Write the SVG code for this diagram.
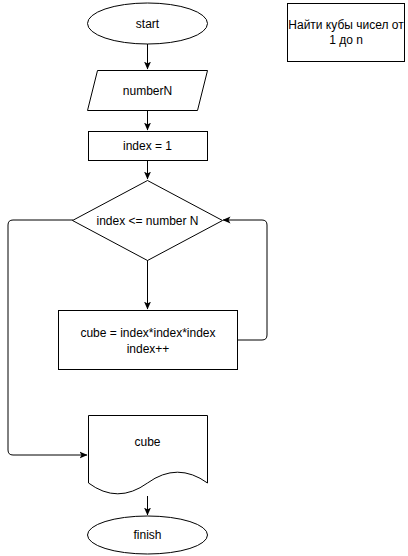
<svg xmlns="http://www.w3.org/2000/svg" width="408" height="556" viewBox="0 0 408 556">
  <defs>
    <marker id="arrow" markerWidth="8" markerHeight="8" refX="7.5" refY="4" orient="auto" markerUnits="userSpaceOnUse">
      <path d="M0,0.5 L8,4 L0,7.5 L2,4 Z" fill="#000"/>
    </marker>
    <style>
      .shape { fill: #fff; stroke: #000; stroke-width: 1; }
      .edge { fill: none; stroke: #000; stroke-width: 1; marker-end: url(#arrow); }
      text { font-family: "Liberation Sans", Arial, sans-serif; font-size: 12px; fill: #000; text-anchor: middle; dominant-baseline: central; }
    </style>
  </defs>
  <rect width="408" height="556" fill="#fff"/>

  <g id="edges">
    <path class="edge" d="M147.5,44 V69"/>
    <path class="edge" d="M147.5,110 V130"/>
    <path class="edge" d="M147.5,161 V179"/>
    <path class="edge" d="M147.5,260 V309"/>
    <path class="edge" d="M238,340 H262 Q267,340 267,335 V225 Q267,220 262,220 H223"/>
    <path class="edge" d="M73,220 H13 Q8,220 8,225 V450 Q8,455 13,455 H87"/>
    <path class="edge" d="M147.5,496 V515"/>
  </g>

  <g id="start">
    <ellipse class="shape" cx="147.5" cy="23.5" rx="60" ry="20.5"/>
    <text x="147.5" y="23.5">start</text>
  </g>

  <g id="input-n">
    <polygon class="shape" points="97.5,70.5 207.5,70.5 197.5,110.5 87.5,110.5"/>
    <text x="147.5" y="90.5">numberN</text>
  </g>

  <g id="init-index">
    <rect class="shape" x="88.5" y="131.5" width="119" height="29"/>
    <text x="147.5" y="146">index = 1</text>
  </g>

  <g id="condition">
    <polygon class="shape" points="147.5,180.5 222.5,220.5 147.5,260.5 72.5,220.5"/>
    <text x="147.5" y="220.5">index &lt;= number N</text>
  </g>

  <g id="compute">
    <rect class="shape" x="58.5" y="310.5" width="179" height="59"/>
    <text x="148" y="332.5">cube = index*index*index</text>
    <text x="148" y="348.5">index++</text>
  </g>

  <g id="output-cube">
    <path class="shape" d="M88.5,415.5 H207.5 V483 Q177.5,461.4 147.5,483 Q117.5,504.6 88.5,483 Z"/>
    <text x="147.5" y="441.5">cube</text>
  </g>

  <g id="finish">
    <ellipse class="shape" cx="147.5" cy="535" rx="60" ry="19"/>
    <text x="147.5" y="535">finish</text>
  </g>

  <g id="note">
    <rect class="shape" x="287.5" y="3.5" width="117" height="58"/>
    <text x="346" y="24.5">Найти кубы чисел от</text>
    <text x="346" y="39.5">1 до n</text>
  </g>
</svg>
